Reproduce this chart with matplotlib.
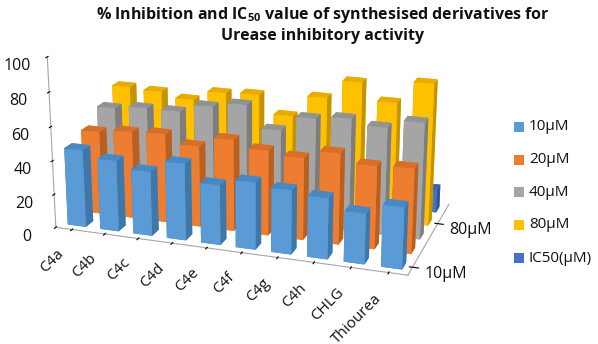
import matplotlib
matplotlib.use("Agg")
import matplotlib.pyplot as plt
from matplotlib.patches import Rectangle

plt.rcParams["font.family"] = ["Open Sans", "DejaVu Sans"]
plt.rcParams["mathtext.fontset"] = "custom"
plt.rcParams["mathtext.bf"] = "Open Sans:bold"

compounds = ["C4a", "C4b", "C4c", "C4d", "C4e", "C4f", "C4g", "C4h", "CHLG", "Thiourea"]
series_names = ["10µM", "20µM", "40µM", "80µM", "IC50(µM)"]
inhib_10 = [46, 42, 38, 45, 35, 39, 37, 35, 29, 35]
inhib_20 = [50, 52, 53, 48, 54, 50, 48, 53, 48, 49]
inhib_40 = [58, 60, 60, 65, 68, 55, 64, 66, 63, 68]
inhib_80 = [65, 64, 61, 67, 68, 57, 70, 81, 71, 84]
ic50 = [10, 12, 9, 14, 11, 13, 10, 12, 14, 14]
z_ticks = [0, 20, 40, 60, 80, 100]

front = ["#5b9bd5", "#ed7d31", "#a5a5a5", "#ffc000", "#4472c4"]
side = ["#3f77a8", "#b85f22", "#7d7d7d", "#c49400", "#2f5597"]
top = ["#4a88c2", "#d86f28", "#929292", "#e6ad00", "#3a63ad"]

fig = plt.figure(figsize=(5.98, 3.44), dpi=100)
ax = fig.add_axes([-0.08, -0.005, 1.0, 1.2], projection="3d")
ax.computed_zorder = False
ax.set_proj_type("persp", focal_length=0.6)
ax.view_init(elev=18, azim=-71)
ax.set_box_aspect((3.0, 1.6, 1.47), zoom=1.04)

rows = [inhib_10, inhib_20, inhib_40, inhib_80, ic50]
order = 0
for r in range(len(rows) - 1, -1, -1):
    for c, val in enumerate(rows[r]):
        cols = [top[r], top[r], front[r], front[r], side[r], side[r]]
        ax.bar3d(c + 0.22, r + 0.28, 0, 0.56, 0.44, val, color=cols, shade=False, zorder=order)
        order += 1

ax.set_xlim(0, len(compounds), view_margin=0)
ax.set_ylim(0, len(series_names), view_margin=0)
ax.set_zlim(0, 100, view_margin=0)
ax.set_xticks([i + 0.5 for i in range(len(compounds))])
ax.set_xticklabels(compounds, rotation=45, ha="right", va="top", fontsize=11, color="#111111")
ax.set_yticks([0.5, 3.5])
ax.set_yticklabels(["10µM", "80µM"], ha="left", va="center", fontsize=11.5, color="#111111")
ax.set_zticks(z_ticks)
ax.set_zticklabels([str(z) for z in z_ticks], fontsize=11.5, color="#111111")
ax.zaxis.set_ticks_position("lower")
ax.zaxis.set_label_position("lower")
ax.grid(False)
for axis in (ax.xaxis, ax.yaxis, ax.zaxis):
    axis.set_pane_color((1, 1, 1, 0))
    axis.line.set_color("#a6a6a6")
    axis._axinfo["tick"]["color"] = "#a6a6a6"
ax.tick_params(axis="x", pad=3)
ax.tick_params(axis="y", pad=-3)
ax.tick_params(axis="z", pad=3)

fig.text(0.54, 0.985, "% Inhibition and IC$\\mathbf{_{50}}$ value of synthesised derivatives for\nUrease inhibitory activity",
         ha="center", va="top", fontsize=11.5, fontweight="bold", color="#111111", linespacing=1.25)

# legend on the right
for name, colour, py in zip(series_names, front, [127, 160, 192, 225, 258]):
    fig.add_artist(Rectangle((514 / 598, 1 - (py + 5) / 344), 10 / 598, 10 / 344,
                             transform=fig.transFigure, facecolor=colour, edgecolor="none"))
    fig.text(529 / 598, 1 - py / 344, name, ha="left", va="center", fontsize=11, color="#111111")

fig.savefig("out.png", dpi=100)
